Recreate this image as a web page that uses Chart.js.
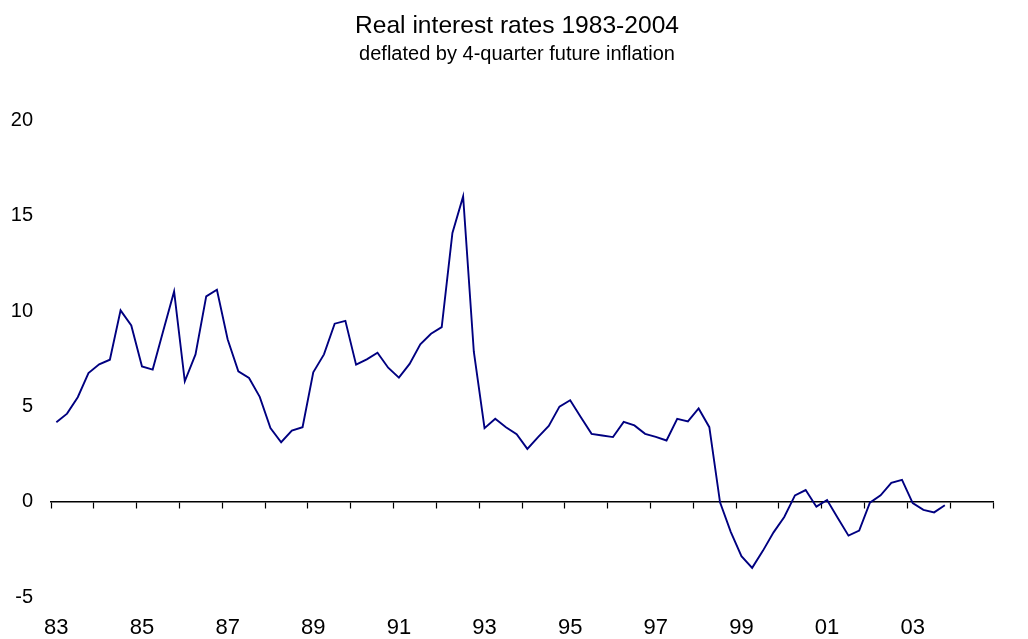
<!DOCTYPE html>
<html>
<head>
<meta charset="utf-8">
<script src="https://cdn.jsdelivr.net/npm/chart.js@4/dist/chart.umd.min.js"></script>
<style>
  html, body { margin: 0; padding: 0; background: #fff; }
  #wrap { width: 1028px; height: 639px; }
</style>
</head>
<body>
<div id="wrap"><canvas id="chart"></canvas></div>
<script>
// === DATA ===
const years = ["83", "84", "85", "86", "87", "88", "89", "90", "91", "92", "93",
               "94", "95", "96", "97", "98", "99", "00", "01", "02", "03", "04"];
const quarters = ["Q1", "Q2", "Q3", "Q4"];

// quarterly real rate, 1983Q1 .. 2003Q4
const realRate = [
  4.17, 4.62, 5.48, 6.75, 7.21, 7.45, 10.04, 9.25,
  7.10, 6.93, 9.00, 11.03, 6.32, 7.73, 10.77, 11.12,
  8.52, 6.84, 6.49, 5.50, 3.86, 3.12, 3.73, 3.91,
  6.79, 7.73, 9.34, 9.49, 7.19, 7.47, 7.82, 7.03,
  6.51, 7.23, 8.26, 8.81, 9.16, 14.10, 16.02, 7.87,
  3.86, 4.35, 3.91, 3.54, 2.77, 3.39, 3.98, 4.99,
  5.32, 4.43, 3.56, 3.47, 3.39, 4.19, 4.00, 3.56,
  3.40, 3.21, 4.35, 4.21, 4.89, 3.91, -0.03, -1.58,
  -2.86, -3.47, -2.58, -1.61, -0.80, 0.33, 0.61, -0.26,
  0.09, -0.85, -1.78, -1.52, -0.05, 0.33, 0.99, 1.15,
  -0.07, -0.43, -0.56, -0.19
];

const yTicks = [-5, 0, 5, 10, 15, 20];

const categories = [];
years.forEach(y => quarters.forEach(q => categories.push(y + " " + q)));

const fontFamily = "'Liberation Sans', Arial, sans-serif";

// === CHART ===
new Chart(document.getElementById("chart"), {
  type: "line",
  data: {
    labels: categories,
    datasets: [{
      data: realRate,
      borderColor: "#000080",
      borderWidth: 1.9,
      pointRadius: 0,
      tension: 0,
      fill: false,
      xAxisID: "x",
      yAxisID: "y"
    }]
  },
  options: {
    responsive: true,
    maintainAspectRatio: false,
    animation: false,
    layout: { padding: { left: 8, right: 2, top: 0, bottom: 0 } },
    plugins: {
      legend: { display: false },
      tooltip: { enabled: false },
      title: {
        display: true,
        text: "Real interest rates 1983-2004",
        color: "#000",
        font: { family: fontFamily, size: 24.6, weight: "normal", lineHeight: 1.2 },
        padding: { top: 11, bottom: 0 }
      },
      subtitle: {
        display: true,
        text: "deflated by 4-quarter future inflation",
        color: "#000",
        font: { family: fontFamily, size: 20, weight: "normal", lineHeight: 1.2 },
        padding: { top: 2, bottom: 54 }
      }
    },
    scales: {
      // axis line at zero with yearly tick marks
      x: {
        type: "category",
        position: { y: 0 },
        offset: true,
        border: { display: true, color: "#000", width: 1.5 },
        grid: {
          offset: true,
          drawOnChartArea: false,
          drawTicks: true,
          tickLength: 6,
          tickWidth: 1.2,
          tickColor: ctx => (ctx.index === undefined || ctx.index % 4 === 0) ? "#000" : "rgba(0,0,0,0)"
        },
        ticks: { display: false, autoSkip: false }
      },
      // year labels along the bottom
      x2: {
        type: "category",
        position: "bottom",
        offset: true,
        border: { display: false },
        grid: { display: false, drawTicks: false, offset: true },
        afterFit: axis => { axis.height = 22; },
        ticks: {
          autoSkip: false,
          maxRotation: 0,
          padding: 0,
          color: "#000",
          font: { family: fontFamily, size: 22, lineHeight: 1 },
          callback: (val, i) => (i % 8 === 0) ? years[i / 4] : ""
        }
      },
      y: {
        position: "left",
        min: -6.05,
        max: 20,
        border: { display: false },
        grid: { display: false, drawTicks: false },
        afterBuildTicks: axis => { axis.ticks = yTicks.map(v => ({ value: v })); },
        afterFit: axis => {
          axis.width = 43;
          axis.paddingTop = 0;
          axis.paddingBottom = 0;
        },
        ticks: {
          padding: 18,
          color: "#000",
          font: { family: fontFamily, size: 20 }
        }
      },
      // empty right margin
      yR: {
        position: "right",
        min: 0,
        max: 1,
        border: { display: false },
        grid: { display: false, drawTicks: false },
        ticks: { display: false },
        afterFit: axis => { axis.width = 33; }
      }
    }
  }
});
</script>
</body>
</html>
